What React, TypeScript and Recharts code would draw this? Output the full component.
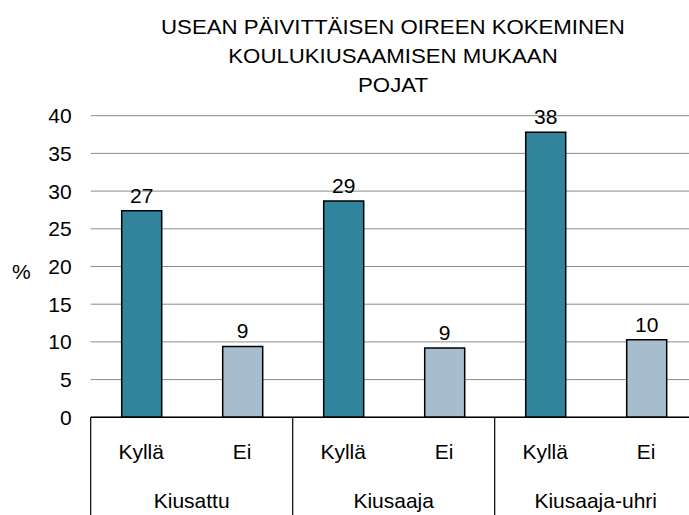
import React from "react";
import { Bar, BarChart, CartesianGrid, Cell, LabelList, XAxis, YAxis } from "recharts";

const groups = ["Kiusattu", "Kiusaaja", "Kiusaaja-uhri"];
const answers = ["Kyllä", "Ei"];
const shares = [27.4, 9.4, 28.7, 9.2, 37.8, 10.3];
const yTicks = [0, 5, 10, 15, 20, 25, 30, 35, 40];
const titleLines = [
  "USEAN PÄIVITTÄISEN OIREEN KOKEMINEN",
  "KOULUKIUSAAMISEN MUKAAN",
  "POJAT",
];

const answerColors: Record<string, string> = { Kyllä: "#31849B", Ei: "#A6BDCD" };

const rows = shares.map((value, i) => ({
  id: `${groups[Math.floor(i / answers.length)]}-${answers[i % answers.length]}`,
  group: groups[Math.floor(i / answers.length)],
  answer: answers[i % answers.length],
  value,
}));

const FONT = "'Liberation Sans', Arial, sans-serif";
const CHART_W = 700;
const CHART_H = 515;
const Y_AXIS_W = 90.7;
const RIGHT = 3.3;
const X_AXIS_H = 97.7;
const BAND = (CHART_W - Y_AXIS_W - RIGHT) / rows.length;

function CategoryTick(props: any) {
  const { x, y, payload } = props;
  const i = payload.index ?? props.index;
  const row = rows[i];
  if (!row) return null;
  const half = payload.offset || BAND / 2;
  const firstInGroup = i % answers.length === 0;
  const last = i === rows.length - 1;
  return (
    <g>
      <text x={x} y={y + 41.7} textAnchor="middle" fontSize={21} fill="#000" fontFamily={FONT}>
        {row.answer}
      </text>
      {firstInGroup && (
        <>
          <line x1={x - half} y1={y} x2={x - half} y2={y + X_AXIS_H} stroke="#000" strokeWidth={1.2} />
          <text x={x + half} y={y + 90.7} textAnchor="middle" fontSize={21} fill="#000" fontFamily={FONT}>
            {row.group}
          </text>
        </>
      )}
      {last && <line x1={x + half} y1={y} x2={x + half} y2={y + X_AXIS_H} stroke="#000" strokeWidth={1.2} />}
    </g>
  );
}

export default function App() {
  return (
    <div
      style={{
        position: "absolute",
        top: 0,
        left: 0,
        width: 689,
        height: 515,
        overflow: "hidden",
        background: "#fff",
        fontFamily: FONT,
      }}
    >
      <div
        style={{
          position: "absolute",
          top: 13.2,
          left: 0,
          width: 786,
          textAlign: "center",
          fontSize: 20,
          lineHeight: "28.75px",
          color: "#000",
          transform: "scaleX(1.11)",
          transformOrigin: "393px 0",
          whiteSpace: "nowrap",
        }}
      >
        {titleLines.map((line) => (
          <div key={line}>{line}</div>
        ))}
      </div>
      <BarChart
        width={CHART_W}
        height={CHART_H}
        data={rows}
        margin={{ top: 115.7, right: RIGHT, bottom: 0, left: 0 }}
      >
        <CartesianGrid vertical={false} stroke="#8c8c8c" strokeWidth={1} />
        <XAxis
          dataKey="id"
          height={X_AXIS_H}
          interval={0}
          tickLine={false}
          tickSize={0}
          tickMargin={0}
          axisLine={{ stroke: "#000", strokeWidth: 1.5 }}
          tick={<CategoryTick />}
        />
        <YAxis
          width={Y_AXIS_W}
          domain={[0, 40]}
          ticks={yTicks}
          interval={0}
          axisLine={false}
          tickLine={false}
          tickSize={0}
          tickMargin={19}
          tick={{ fontSize: 21, fill: "#000", fontFamily: FONT }}
          label={{
            value: "%",
            position: "insideLeft",
            offset: 12,
            dy: 5,
            fontSize: 21,
            fill: "#000",
            fontFamily: FONT,
          }}
        />
        <Bar dataKey="value" barSize={40} stroke="#000" strokeWidth={1.5} isAnimationActive={false}>
          {rows.map((row) => (
            <Cell key={row.id} fill={answerColors[row.answer]} />
          ))}
          <LabelList
            dataKey="value"
            position="top"
            offset={8}
            formatter={(v: any) => Math.round(Number(v))}
            style={{ fontSize: 21, fill: "#000", fontFamily: FONT }}
          />
        </Bar>
      </BarChart>
    </div>
  );
}
